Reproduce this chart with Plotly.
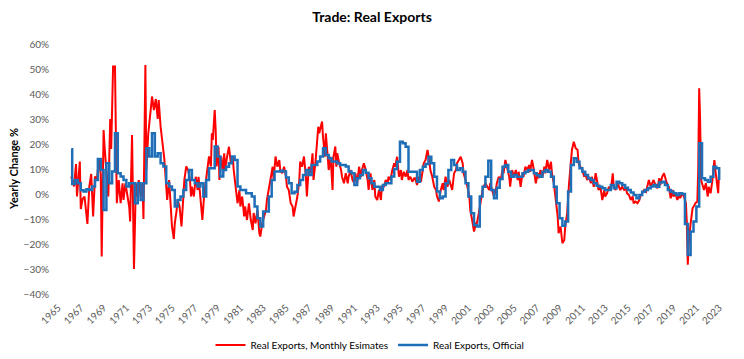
import pandas as pd
import plotly.graph_objects as go

# ---------------- data ----------------
red_dates = [
    "1966-03","1966-06","1966-08","1966-09","1966-12","1967-01","1967-03","1967-05","1967-08","1967-10",
    "1967-12","1968-02","1968-04","1968-06","1968-08","1968-10","1968-11","1969-01","1969-02","1969-04",
    "1969-06","1969-08","1969-09","1969-11","1970-01","1970-02","1970-03","1970-05","1970-07","1970-09",
    "1970-10","1970-12","1971-02","1971-04","1971-05","1971-07","1971-09","1971-11","1971-12","1972-02",
    "1972-04","1972-06","1972-07","1972-09","1972-10","1972-12","1973-03","1973-04","1973-06","1973-08",
    "1973-10","1973-11","1974-01","1974-03","1974-05","1974-06","1974-08","1974-10","1974-12","1975-01",
    "1975-03",
    "1975-04","1975-06","1975-07","1975-09","1975-11","1976-01","1976-02","1976-04","1976-06","1976-08",
    "1976-09","1976-10","1976-12","1977-02","1977-04","1977-05","1977-07","1977-09","1977-11","1977-12",
    "1978-02","1978-04","1978-06","1978-07","1978-08","1978-10","1978-11","1978-12","1979-02","1979-03",
    "1979-05","1979-07","1979-08","1979-09","1979-11","1980-01","1980-03","1980-05","1980-06","1980-08",
    "1980-10","1980-12","1981-01","1981-03","1981-05","1981-06","1981-08","1981-10","1981-12","1982-02",
    "1982-03","1982-05","1982-07","1982-09","1982-10","1982-12","1983-02","1983-04","1983-05","1983-07",
    "1983-09","1983-11","1983-12","1984-02","1984-04","1984-06","1984-07","1984-09","1984-11","1985-01",
    "1985-02",
    "1985-04","1985-06","1985-08","1985-09","1985-11","1986-01","1986-03","1986-04","1986-06","1986-08",
    "1986-10","1986-11","1987-01","1987-03","1987-05","1987-06","1987-08","1987-10","1987-11","1987-12",
    "1988-02","1988-03","1988-04","1988-06","1988-07","1988-09","1988-10","1988-12","1989-02","1989-03",
    "1989-05","1989-06","1989-07","1989-09","1989-11","1989-12","1990-02","1990-04","1990-06","1990-07",
    "1990-09","1990-11","1991-01","1991-02","1991-04","1991-06","1991-08","1991-09","1991-11","1992-01",
    "1992-03","1992-04","1992-06","1992-08","1992-10","1992-11","1993-01","1993-03","1993-05","1993-06",
    "1993-08","1993-10","1993-12","1994-01","1994-03","1994-05","1994-07","1994-08","1994-10",
    "1994-12","1995-02","1995-03","1995-05","1995-07","1995-09","1995-10","1995-12","1996-02","1996-04",
    "1996-05","1996-07","1996-09","1996-11","1997-01","1997-02","1997-04","1997-06","1997-08","1997-09",
    "1997-11","1998-01","1998-03","1998-04","1998-06","1998-08","1998-10","1998-11","1999-01","1999-03",
    "1999-05","1999-06","1999-08","1999-10","1999-12","2000-01","2000-03","2000-05","2000-07","2000-08",
    "2000-10","2000-12","2001-02","2001-03","2001-05","2001-07","2001-09","2001-10","2001-12","2002-02",
    "2002-04","2002-05","2002-07","2002-09","2002-11","2002-12","2003-02","2003-04","2003-06","2003-07",
    "2003-09","2003-11","2004-01","2004-02","2004-04","2004-06","2004-08","2004-09","2004-11",
    "2005-01","2005-03","2005-05","2005-06","2005-08","2005-10","2005-11","2006-01","2006-03","2006-05",
    "2006-06","2006-08","2006-10","2006-12","2007-02","2007-03","2007-05","2007-07","2007-09","2007-10",
    "2007-12","2008-02","2008-04","2008-05","2008-07","2008-09","2008-11","2008-12","2009-02","2009-04",
    "2009-06","2009-07","2009-09","2009-11","2010-01","2010-02","2010-04","2010-06","2010-08","2010-09",
    "2010-11","2011-01","2011-03","2011-04","2011-06","2011-08","2011-10","2011-11","2012-01","2012-03",
    "2012-05","2012-06","2012-08","2012-10","2012-12","2013-01","2013-03","2013-05","2013-07","2013-09",
    "2013-10","2013-12","2014-02","2014-04","2014-05","2014-07","2014-09","2014-11","2014-12",
    "2015-02","2015-04","2015-06","2015-07","2015-09","2015-11","2016-01","2016-02","2016-04","2016-06",
    "2016-08","2016-09","2016-11","2017-01","2017-03","2017-04","2017-06","2017-08","2017-10","2017-11",
    "2018-01","2018-03","2018-05","2018-06","2018-08","2018-10","2018-12","2019-01","2019-03","2019-05",
    "2019-07","2019-08","2019-10","2019-12","2020-02","2020-03","2020-04","2020-05","2020-07","2020-08",
    "2020-09","2020-11","2020-12","2021-02","2021-03","2021-04","2021-05","2021-06","2021-07","2021-09",
    "2021-11","2022-01","2022-02","2022-04","2022-06","2022-08","2022-09","2022-11","2022-12","2023-01",
]
red_values = [
    7, 3, 12, -1, 13, -6, -2, -1, -12, 3,
    8, -9, 7, 5.6, 14, 8, -25, 25.6, 19, 8,
    -1, 30, 18, 51, 51, 21.6, -3.7, 5.6, -3.7, 4.3,
    -2.4, 4.3, 0.3, -5, -11, 23.6, -30, 4.3, -1, 5.6,
    -1, 4.3, -10, 51.6, 9.6, 24, 35, 39, 33.6, 38,
    30, 37.6, 27, 21.6, 14, 8.3, -2.4, 5.6, -5, -13,
    -18,
    -11.7, -6.4, -2.4, -5, -13, -1, 5.6, 11, 9.6, 5.6,
    -1, 2.9, -1, 6.9, 1.6, 6.9, -2.4, -10.4, 0.3, 2.9,
    8.3, 15, 11, 24.3, 21.6, 33.6, 25.6, 11, 18.9, 5.6,
    15, 8.3, 16.3, 9.6, 15, 18.9, 12.3, 15, 9.6, 2.9,
    -3.7, 1.6, -5, -1, -9, -5, -10.4, -3.7, -10.4, -14.4,
    -7.6, -11.7, -6.4, -15.7, -17, -11.7, -9, -6.4, -2.4, 1.6,
    6.9, 10.9, 5.6, 15, 10.9, 13.6, 9.6, 8.3, 10.9, 6.9,
    2.9,
    1.6, -3.7, -5, -9, -5, -1, 5, 13, 10.9, 15,
    6.9, -1, 10.9, 8.3, 16.3, 5.6, 12.3, 22.9, 26.9, 24.3,
    28.3, 29, 22.9, 14.9, 24.3, 12.3, 9.6, 14.9, 1.6, 14.9,
    19, 10.9, 16.3, 12.3, 9.6, 6.9, 4.3, 8.3, 4.3, 6.9,
    9.6, 5.6, 4.3, 8.3, 4.3, 10.9, 6.9, 9.6, 12.3, 9.6,
    5.6, 1.6, 8.3, 1.6, 5.6, -1, -2.4, 1.6, -2.4, 2.9,
    2.9, 5.6, 4.3, 6.9, 5.6, 9.6, 12.3, 10.9, 14.9,
    6.9, 9.6, 5.6, 8.9, 6.9, 9.6, 5.6, 6.9, 4.9, 6.3,
    6.3, 3.6, 6.9, 4.9, 9.6, 12.3, 13.6, 17.6, 13, 9.6,
    6.9, 2.9, 1.6, -1, -3, 1.6, 4.3, 1.6, 6.9, 2.9,
    5.6, 4.3, 1.6, 8.3, 9.6, 12.3, 13.6, 14.9, 12.3, 8.3,
    5.6, 2.9, -1, -6.4, -10.4, -15, -11.7, -11.7, -7.7, -2.4,
    1.6, 2.9, 4.3, 2.9, 1.6, 4.3, 1.6, -1, 1.6, 4.3,
    6.9, 5.6, 9.6, 8.3, 13.6, 9.6, 6.9, 2.9, 9.6,
    6.9, 9.6, 5.6, 8.9, 2.9, 8.3, 6.9, 10.9, 9.6, 11.6,
    8.9, 13.6, 9.6, 4.3, 8.3, 6.3, 9.6, 6.9, 10.9, 8.3,
    13.6, 9.6, 12.9, 8.3, 4.3, -2.4, -9, -15.7, -13, -19.7,
    -18.4, -13, -7.7, 4.3, 14.9, 17.6, 20.9, 18.3, 17.6, 12.3,
    10.9, 9.6, 6.9, 8.3, 5.6, 6.9, 4.3, 6.9, 2.9, 8.3,
    4.3, 1.6, 2.9, -2.4, 1.6, -1, 0.3, 2.9, 1.6, 8.3,
    2.9, 1.6, 4.3, 2.9, 1.6, 2.9, 1.6, 2.3, 0.3,
    -0.4, -2.4, -1, -3.7, -3, -3.7, -2.4, -1, 0.3, 1.6,
    0.9, 2.3, 5.6, 2.9, 4.3, 5.6, 3.6, 2.3, 6.3, 3.6,
    6.9, 8.3, 5.6, 4.3, 2.9, -1.7, 1.6, -1, 0.3, -2.4,
    -0.4, -1.7, 0.3, -1, -3.7, -11.7, -28.3, -19.7, -11.7, -7.7,
    -5.7, -4.4, -3.7, -3, 9.6, 42.3, 29.6, 5.6, 4.3, 1.6,
    4.3, -1, 2.9, 0.3, 5.6, 13.6, 9.6, 2.9, 0.3, 9.6,
]

# official series: first monthly reading, then quarterly values from 1966 Q2
blue_first_date = "1966-03"
blue_first_value = 17.9
blue_q_start = "1966-04-01"
blue_q_values = [
    4.0, 5.6, 4.3,                     # 1966 Q2-Q4
    1.5, 1.0, 1.9, 1.6,                # 1967
    3.0, 5.6, 14.0, 9.6,               # 1968
    -6.4, 12.3, 4.3, 9.0,              # 1969
    24.3, 8.3, 7.0, 5.6,               # 1970
    3.0, 4.3, 4.3, -3.7,               # 1971
    4.3, -2.4, 4.3, 18.3,              # 1972
    15.0, 24.3, 15.0, 16.3,            # 1973
    12.3, 11.0, 4.3, 3.0,              # 1974
    1.6, -5.0, -2.4, -1.0,             # 1975
    1.6, 5.6, 9.6, 5.6,                # 1976
    4.3, 3.0, 4.3, -1.0,               # 1977
    5.6, 10.3, 10.3, 19.0,             # 1978
    15.0, 7.0, 9.6, 10.9,              # 1979
    12.3, 15.0, 13.6, 3.0,             # 1980
    1.6, 1.6, 0.3, 0.3,                # 1981
    -1.0, -5.0, -9.7, -13.0,           # 1982
    -7.0, -7.0, -1.0, 5.6,             # 1983
    9.0, 9.0, 9.3, 9.0,                # 1984
    6.6, 4.3, 0.3, 0.9,                # 1985
    3.6, 5.6, 7.6, 9.6,                # 1986
    7.6, 11.6, 11.6, 13.0,             # 1987
    15.0, 18.3, 15.6, 14.3,            # 1988
    13.0, 13.0, 12.3, 11.6,            # 1989
    11.6, 11.0, 9.0, 8.3,              # 1990
    3.6, 6.3, 7.6, 9.6,                # 1991
    8.5, 6.3, 4.3, 2.9,                # 1992
    2.9, 1.6, 3.6, 4.3,                # 1993
    4.3, 7.0, 10.0, 12.9,              # 1994
    20.9, 20.3, 18.9, 8.9,             # 1995
    8.9, 8.9, 4.9, 9.6,                # 1996
    10.9, 12.0, 14.9, 12.3,            # 1997
    6.9, 1.0, -1.7, -1.0,              # 1998
    4.3, 9.6, 13.6, 11.6,              # 1999
    9.6, 10.3, 8.9, 4.3,               # 2000
    -1.0, -7.7, -12.4, -13.0,          # 2001
    -1.0, 2.9, 6.9, 13.3,              # 2002
    1.6, -1.7, 2.5, 6.0,               # 2003
    10.9, 11.6, 8.9, 6.9,              # 2004
    7.6, 6.9, 6.9, 8.3,                # 2005
    8.9, 9.6, 9.6, 8.3,                # 2006
    7.5, 6.9, 8.9, 9.6,                # 2007
    8.9, 6.9, 2.9, -3.7,               # 2008
    -9.7, -12.7, -11.0, 1.0,           # 2009
    11.6, 14.3, 12.9, 10.3,            # 2010
    8.9, 7.6, 6.3, 5.6,                # 2011
    4.3, 3.3, 2.9, 2.3,                # 2012
    1.6, 1.6, 3.6, 2.3,                # 2013
    4.9, 4.3, 3.6, 2.5,                # 2014
    1.6, 0.6, -0.4, -1.7,              # 2015
    -0.4, 0.9, 1.6, 2.3,               # 2016
    3.0, 3.6, 2.9, 4.6,                # 2017
    4.9, 3.6, 1.6, 0.9,                # 2018
    0.3, -0.4, 0.3, 0.0,               # 2019
    -12.0, -24.4, -15.0, -11.0,        # 2020
    -5.0, 20.3, 6.3, 5.6,              # 2021
    4.9, 6.9, 10.9, 10.3,              # 2022
    5.6,                               # 2023 Q1
]

title_text = "Trade: Real Exports"
y_title = "Yearly Change %"
red_name = "Real Exports, Monthly Esimates"
blue_name = "Real Exports, Official"

# ---------------- figure ----------------
red_x = pd.to_datetime(red_dates)
blue_x = [pd.Timestamp(blue_first_date)] + list(
    pd.date_range(blue_q_start, periods=len(blue_q_values), freq="QS"))
blue_y = [blue_first_value] + blue_q_values

FONT = "Lato, 'Open Sans', Arial, sans-serif"
X_RANGE = ["1965-01-01", "2023-03-01"]
OFF = 8                       # page body margin offset
W, H = 744 - OFF, 359 - OFF
ML, MT = 58 - OFF, 44 - OFF   # plot area: page x 58..721, page y 44..294
MR = W - (721 - OFF)
MB = H - (294 - OFF)
PW = W - ML - MR

fig = go.Figure()
fig.add_trace(go.Scatter(x=red_x, y=red_values, mode="lines", name=red_name,
                         line=dict(color="#FF0000", width=2)))
fig.add_trace(go.Scatter(x=blue_x, y=blue_y, mode="lines", name=blue_name,
                         line=dict(color="#1F6FB8", width=2.5, shape="hv")))

fig.update_layout(
    width=W, height=H,
    margin=dict(l=ML, r=MR, t=MT, b=MB, autoexpand=False),
    paper_bgcolor="white", plot_bgcolor="white",
    font=dict(family=FONT, size=10, color="#595959"),
    title=dict(text="<b>" + title_text + "</b>", x=(372 - OFF) / W, xref="container",
               xanchor="center", y=1 - (17 - OFF) / H, yref="container", yanchor="middle",
               font=dict(size=14, color="#000000", family=FONT)),
    showlegend=True,
    legend=dict(orientation="h", x=(370 - 58) / PW, xanchor="center",
                yref="container", y=1 - (345 - OFF) / H, yanchor="middle",
                font=dict(size=10, color="#000000", family=FONT),
                bgcolor="rgba(0,0,0,0)", itemwidth=30, tracegroupgap=0),
    xaxis=dict(type="date", range=X_RANGE, tickmode="linear", tick0="1965-01-01",
               dtick="M24", tickformat="%Y", tickangle=-45, showgrid=False,
               zeroline=False, showline=False, ticks="", automargin=False,
               ticklabelstandoff=5,
               tickfont=dict(size=10, color="#595959")),
    xaxis2=dict(type="date", range=X_RANGE, overlaying="x", anchor="free", position=0.4,
                tickmode="linear", tick0="1965-01-01", dtick="M24", automargin=False,
                showticklabels=False, showgrid=False, zeroline=False,
                showline=True, linecolor="#D9D9D9", linewidth=1,
                ticks="outside", ticklen=4, tickcolor="#D9D9D9", tickwidth=1),
    yaxis=dict(range=[-40, 60], dtick=10, tick0=0, ticksuffix="%", showgrid=False,
               zeroline=False, showline=False, ticks="", automargin=False,
               ticklabelstandoff=8,
               tickfont=dict(size=10, color="#595959")),
    annotations=[dict(text="<b>" + y_title + "</b>", textangle=-90,
                      x=(13 - 58) / PW, xref="paper", xanchor="center",
                      y=0.5, yref="paper", yanchor="middle", showarrow=False,
                      font=dict(size=11, color="#000000", family=FONT))],
)

fig.write_html("out.html")
